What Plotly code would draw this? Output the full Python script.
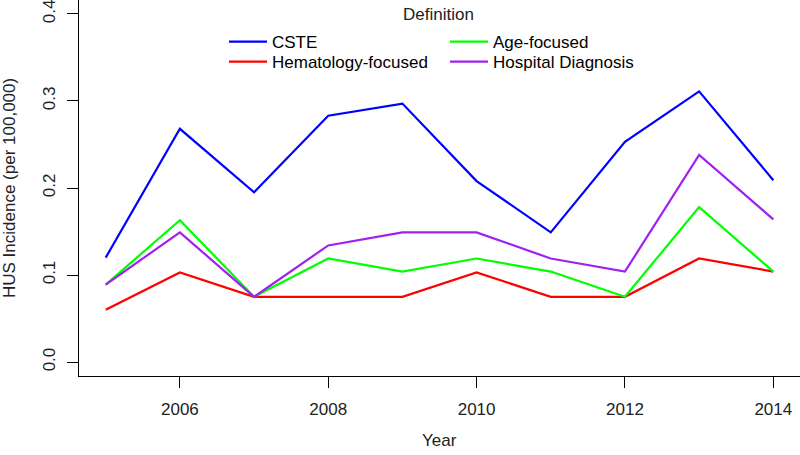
import plotly.graph_objects as go

years = [2005, 2006, 2007, 2008, 2009, 2010, 2011, 2012, 2013, 2014]
cste = [0.120, 0.268, 0.195, 0.283, 0.297, 0.208, 0.149, 0.253, 0.311, 0.209]
hema = [0.060, 0.103, 0.075, 0.075, 0.075, 0.103, 0.075, 0.075, 0.119, 0.104]
age = [0.089, 0.163, 0.075, 0.119, 0.104, 0.119, 0.104, 0.075, 0.178, 0.104]
hosp = [0.089, 0.149, 0.075, 0.134, 0.149, 0.149, 0.119, 0.104, 0.238, 0.164]

x_ticks = [2006, 2008, 2010, 2012, 2014]
y_ticks = [0.0, 0.1, 0.2, 0.3, 0.4]
y_tick_labels = ["0.0", "0.1", "0.2", "0.3", "0.4"]

FONT = "Liberation Sans, Arial, sans-serif"
fs = 17
PW, PH = 721, 376  # plot area in px

fig = go.Figure()
fig.add_trace(go.Scatter(x=years, y=cste, mode="lines", name="CSTE",
                         line=dict(color="#0000FF", width=2.2), legend="legend"))
fig.add_trace(go.Scatter(x=years, y=hema, mode="lines", name="Hematology-focused",
                         line=dict(color="#FF0000", width=2.2), legend="legend2"))
fig.add_trace(go.Scatter(x=years, y=age, mode="lines", name="Age-focused",
                         line=dict(color="#00FF00", width=2.2), legend="legend3"))
fig.add_trace(go.Scatter(x=years, y=hosp, mode="lines", name="Hospital Diagnosis",
                         line=dict(color="#A020F0", width=2.2), legend="legend4"))

legend_common = dict(xanchor="left", yanchor="top",
                     bgcolor="rgba(0,0,0,0)", borderwidth=0,
                     font=dict(family=FONT, size=fs, color="#000"),
                     tracegroupgap=0, itemwidth=38)

col1, col2 = 224, 445
row1, row2 = 24, 44

fig.update_layout(
    width=800, height=455,
    margin=dict(l=79, r=0, t=0, b=79, autoexpand=False),
    paper_bgcolor="white", plot_bgcolor="white",
    font=dict(family=FONT, size=fs, color="#000"),
    showlegend=True,
    legend=dict(x=(col1 - 79)/PW, y=(PH - row1)/PH, **legend_common),
    legend2=dict(x=(col1 - 79)/PW, y=(PH - row2)/PH, **legend_common),
    legend3=dict(x=(col2 - 79)/PW, y=(PH - row1)/PH, **legend_common),
    legend4=dict(x=(col2 - 79)/PW, y=(PH - row2)/PH, **legend_common),
    xaxis=dict(range=[2004.64, 2014.36], tickmode="array", tickvals=x_ticks,
               ticks="outside", ticklen=11, tickwidth=1, tickcolor="#000",
               showline=True, linecolor="#000", linewidth=1, mirror=False,
               showgrid=False, zeroline=False, ticklabelstandoff=7,
               ticklabeloverflow="allow",
               tickfont=dict(family=FONT, size=fs, color="#222")),
    yaxis=dict(range=[-0.016, 0.416], tickmode="array", tickvals=y_ticks,
               ticktext=y_tick_labels, tickangle=-90,
               ticks="outside", ticklen=11, tickwidth=1, tickcolor="#000",
               showline=True, linecolor="#000", linewidth=1, mirror=False,
               showgrid=False, zeroline=False, ticklabelstandoff=5,
               ticklabeloverflow="allow",
               tickfont=dict(family=FONT, size=fs, color="#222")),
    annotations=[
        dict(text="Definition", xref="paper", yref="paper",
             x=(438 - 79)/PW, y=(PH - 14)/PH, xanchor="center", yanchor="middle",
             showarrow=False, font=dict(family=FONT, size=fs, color="#222")),
        dict(text="Year", xref="paper", yref="paper", x=0.5, y=-64/PH,
             xanchor="center", yanchor="middle", showarrow=False,
             font=dict(family=FONT, size=fs, color="#222")),
        dict(text="HUS Incidence (per 100,000)", xref="paper", yref="paper",
             x=-70/PW, y=0.5, xanchor="center", yanchor="middle", textangle=-90,
             showarrow=False, font=dict(family=FONT, size=fs, color="#222")),
    ],
)

fig.write_html("out.html", config={"displayModeBar": False},
               post_script="document.body.style.margin='0';document.body.style.padding='0';")
